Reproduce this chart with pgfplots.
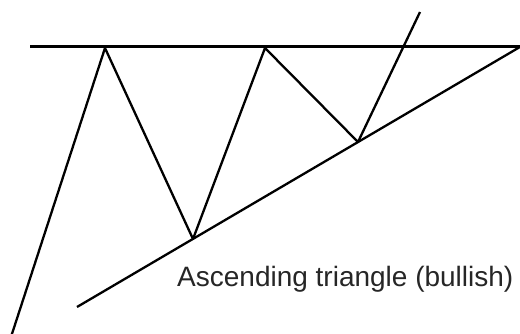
\documentclass[border=0pt]{standalone}
\usepackage{pgfplots}
\pgfplotsset{compat=1.18}
\usepackage{fontspec}
\setmainfont{Liberation Sans}
\begin{document}
\begin{tikzpicture}
\begin{axis}[
  width=520pt, height=334pt, scale only axis,
  xmin=0, xmax=520, ymin=0, ymax=334, y dir=reverse,
  axis lines=none, clip=true,
]
% price path
\addplot[black, line width=2.3pt, line join=round, mark=none] coordinates {
  (10,340) (105,48) (193,239) (265,48) (358,142) (420,12)
};
% resistance (horizontal)
\addplot[black, line width=3pt, mark=none] coordinates {
  (30,47) (525,47)
};
% rising support
\addplot[black, line width=2.3pt, mark=none] coordinates {
  (77,307) (525,44)
};
\node[anchor=base west, inner sep=0pt, text=black!85] at (axis cs:177,287)
  {\fontsize{28}{30}\selectfont Ascending triangle (bullish)};
\end{axis}
\pgfresetboundingbox
\useasboundingbox (0,0) rectangle (520pt,334pt);
\end{tikzpicture}
\end{document}
